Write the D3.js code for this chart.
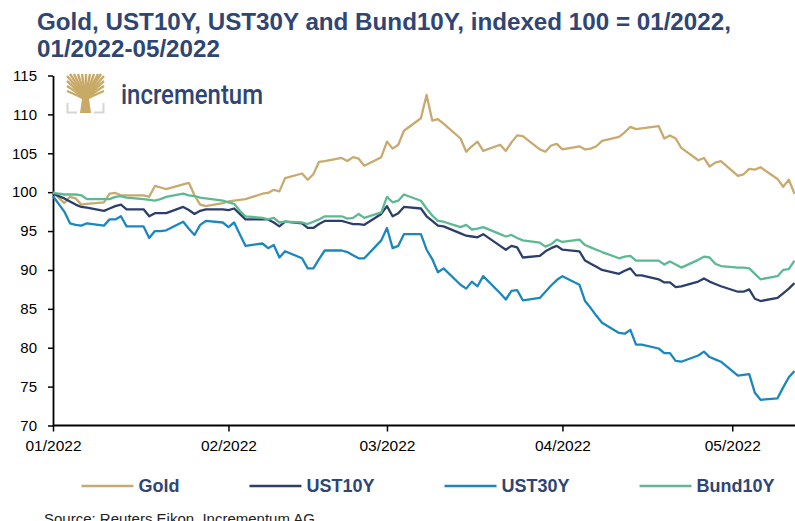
<!DOCTYPE html>
<html>
<head>
<meta charset="utf-8">
<script src="https://cdn.jsdelivr.net/npm/d3@7"></script>
<style>
  body { margin: 0; background: #fff; }
  svg { display: block; font-family: Arial, "Liberation Sans", sans-serif; }
</style>
</head>
<body>
<div id="chart"></div>
<script>
// Business days, indexed 100 = 01/2022
const dates = ["2022-01-01",
  "2022-01-03","2022-01-04","2022-01-05","2022-01-06","2022-01-07",
  "2022-01-10","2022-01-11","2022-01-12","2022-01-13","2022-01-14",
  "2022-01-17","2022-01-18","2022-01-19","2022-01-20","2022-01-21",
  "2022-01-24","2022-01-25","2022-01-26","2022-01-27","2022-01-28",
  "2022-01-31","2022-02-01","2022-02-02","2022-02-03","2022-02-04",
  "2022-02-07","2022-02-08","2022-02-09","2022-02-10","2022-02-11",
  "2022-02-14","2022-02-15","2022-02-16","2022-02-17","2022-02-18",
  "2022-02-21","2022-02-22","2022-02-23","2022-02-24","2022-02-25",
  "2022-02-28","2022-03-01","2022-03-02","2022-03-03","2022-03-04",
  "2022-03-07","2022-03-08","2022-03-09","2022-03-10","2022-03-11",
  "2022-03-14","2022-03-15","2022-03-16","2022-03-17","2022-03-18",
  "2022-03-21","2022-03-22","2022-03-23","2022-03-24","2022-03-25",
  "2022-03-28","2022-03-29","2022-03-30","2022-03-31","2022-04-01",
  "2022-04-04","2022-04-05","2022-04-06","2022-04-07","2022-04-08",
  "2022-04-11","2022-04-12","2022-04-13","2022-04-14","2022-04-15",
  "2022-04-18","2022-04-19","2022-04-20","2022-04-21","2022-04-22",
  "2022-04-25","2022-04-26","2022-04-27","2022-04-28","2022-04-29",
  "2022-05-02","2022-05-03","2022-05-04","2022-05-05","2022-05-06",
  "2022-05-09","2022-05-10","2022-05-11","2022-05-12"];

const gold = [100.0,
  98.6, 99.4, 99.2, 98.4, 98.5,
  98.7, 99.8, 99.9, 99.6, 99.6,
  99.6, 99.4, 100.8, 100.6, 100.4,
  101.0, 101.2, 99.6, 98.4, 98.2,
  98.6, 98.8, 98.9, 99.0, 99.1,
  99.8, 99.9, 100.3, 100.1, 101.8,
  102.4, 101.6, 102.3, 103.9, 104.0,
  104.4, 104.0, 104.5, 104.3, 103.4,
  104.5, 106.5, 105.6, 106.1, 107.9,
  109.5, 112.5, 109.2, 109.4, 108.8,
  106.9, 105.2, 105.9, 106.5, 105.3,
  106.1, 105.3, 106.4, 107.3, 107.2,
  105.5, 105.2, 106.0, 106.2, 105.5,
  105.9, 105.5, 105.6, 105.9, 106.6,
  107.1, 107.7, 108.4, 108.1, 108.2,
  108.5, 106.9, 107.3, 106.9, 105.7,
  104.1, 104.4, 103.3, 103.8, 104.0,
  102.1, 102.3, 103.0, 102.9, 103.2,
  101.7, 100.7, 101.6, 99.8];

const ust10 = [99.8,
  99.2, 98.8, 98.4, 98.1, 98.0,
  97.6, 97.9, 98.2, 98.4, 97.8,
  97.8, 96.9, 97.3, 97.3, 97.3,
  98.1, 97.7, 97.2, 97.6, 97.8,
  97.8, 97.7, 97.9, 97.2, 96.5,
  96.5, 96.5, 96.1, 95.6, 96.2,
  96.0, 95.4, 95.4, 95.9, 96.3,
  96.3, 96.1, 95.9, 95.9, 95.8,
  97.2, 98.2, 96.9, 97.3, 98.1,
  97.9, 96.9, 96.3, 95.7, 95.6,
  94.7, 94.4, 94.3, 94.2, 94.6,
  93.1, 92.6, 93.1, 92.9, 91.6,
  91.8, 92.4, 92.8, 93.1, 92.6,
  92.4, 91.2, 90.8, 90.4, 90.0,
  89.5, 89.9, 90.2, 89.3, 89.3,
  88.8, 88.4, 88.4, 87.8, 87.9,
  88.5, 88.9, 88.5, 88.2, 87.9,
  87.2, 87.2, 87.5, 86.3, 86.0,
  86.4, 87.0, 87.6, 88.3];

const ust30 = [99.5,
  97.5, 96.0, 95.8, 95.7, 96.0,
  95.7, 96.5, 96.5, 96.9, 95.6,
  95.6, 94.1, 95.0, 95.0, 95.1,
  96.2, 95.3, 94.5, 95.8, 96.3,
  96.1, 95.5, 96.1, 94.6, 93.1,
  93.4, 92.8, 93.2, 91.6, 92.4,
  91.5, 90.2, 90.2, 91.4, 92.5,
  92.5, 92.3, 91.9, 91.5, 91.5,
  93.8, 95.4, 92.8, 93.1, 94.6,
  94.6, 92.6, 91.4, 89.7, 90.2,
  88.1, 87.6, 88.5, 87.9, 89.2,
  87.0, 86.2, 87.3, 87.4, 86.1,
  86.4, 87.2, 88.0, 88.7, 89.2,
  88.1, 86.0, 85.1, 84.1, 83.2,
  81.9, 81.8, 82.3, 80.4, 80.4,
  79.9, 79.3, 79.3, 78.3, 78.2,
  79.0, 79.5, 78.8, 78.5, 78.2,
  76.4, 76.5, 76.6, 74.2, 73.3,
  73.5, 74.9, 76.2, 77.0];

const bund10 = [99.9,
  99.7, 99.7, 99.7, 99.6, 99.1,
  99.1, 99.1, 99.4, 99.5, 99.3,
  99.1, 99.0, 98.9, 99.1, 99.4,
  99.8, 99.6, 99.5, 99.3, 99.2,
  98.9, 98.7, 98.5, 97.6, 96.9,
  96.7, 96.5, 96.7, 96.1, 96.2,
  96.1, 95.9, 96.2, 96.5, 96.9,
  96.9, 96.6, 96.7, 97.2, 96.7,
  97.4, 99.4, 98.7, 98.9, 99.7,
  98.9, 97.9, 97.0, 96.3, 96.2,
  95.5, 95.8, 95.2, 95.3, 95.5,
  94.6, 94.3, 94.5, 94.1, 93.8,
  93.5, 93.0, 93.3, 93.9, 93.6,
  93.9, 93.2, 92.9, 92.6, 92.3,
  91.5, 91.7, 91.8, 91.2, 91.2,
  91.2, 90.7, 91.1, 90.7, 90.3,
  91.3, 91.7, 91.6, 90.8, 90.5,
  90.3, 90.3, 90.2, 89.5, 88.8,
  89.2, 90.0, 90.1, 91.2];

const seriesNames = ["Gold", "UST10Y", "UST30Y", "Bund10Y"];
const seriesValues = [gold, ust10, ust30, bund10];
const seriesColors = ["#c8aa6e", "#2c3f6b", "#1b87bf", "#5cb993"];

const yTicks = [70, 75, 80, 85, 90, 95, 100, 105, 110, 115];
const monthTicks = ["2022-01-01", "2022-02-01", "2022-03-01", "2022-04-01", "2022-05-01"];
const titleLines = ["Gold, UST10Y, UST30Y and Bund10Y, indexed 100 = 01/2022,", "01/2022-05/2022"];
const sourceText = "Source: Reuters Eikon, Incrementum AG";

const width = 795, height = 521;
const navy = "#2f4573";

const svg = d3.select("#chart")
    .append("svg")
    .attr("width", width)
    .attr("height", height);

const parse = d3.utcParse("%Y-%m-%d");
const dateObjs = dates.map(parse);

// Scales
const x = d3.scaleUtc()
    .domain([parse("2022-01-01"), parse("2022-05-12")])
    .range([53, 794.5]);

const y = d3.scaleLinear()
    .domain([70, 115])
    .range([425.5, 75.5]);

// Title
svg.append("g")
    .selectAll("text")
    .data(titleLines)
    .join("text")
    .attr("x", 37)
    .attr("y", (d, i) => 30 + i * 27)
    .attr("font-size", 24.2)
    .attr("font-weight", "bold")
    .attr("fill", navy)
    .text(d => d);

// Logo
const logo = svg.append("g");
const gold_c = "#c8aa66";
const tips = [[67, 76], [70, 74], [74, 74], [78, 74], [82, 74], [86, 74], [90, 74], [94, 74], [98, 74], [101, 74], [104, 76],
              [67, 81], [67, 86], [67, 91], [104, 81], [104, 86], [104, 91]];
logo.selectAll("path.branch")
    .data(tips)
    .join("path")
    .attr("class", "branch")
    .attr("d", d => `M85.5,100 Q${85.5 + (d[0] - 85.5) * 0.35},${d[1] + (100 - d[1]) * 0.55} ${d[0]},${d[1]}`)
    .attr("fill", "none")
    .attr("stroke", gold_c)
    .attr("stroke-width", 2.4);
logo.append("path")
    .attr("d", "M82.5,95 L88.5,95 L91,113 L80,113 Z")
    .attr("fill", gold_c);
logo.append("path")
    .attr("d", "M67.5,103 V112.5 H77 M103.5,103 V112.5 H94")
    .attr("fill", "none")
    .attr("stroke", "#d6d6d6")
    .attr("stroke-width", 2);
logo.append("text")
    .attr("x", 121)
    .attr("y", 103.5)
    .attr("font-size", 28)
    .attr("font-family", "Roboto, Arial, sans-serif")
    .attr("font-weight", 500)
    .attr("textLength", 142)
    .attr("lengthAdjust", "spacingAndGlyphs")
    .attr("fill", navy)
    .text("incrementum");

// Axes
const yAxis = svg.append("g")
    .attr("transform", "translate(53,0)")
    .call(d3.axisLeft(y).tickValues(yTicks).tickSize(5).tickSizeOuter(0).tickPadding(11).tickFormat(d3.format("d")));

const xAxis = svg.append("g")
    .attr("transform", "translate(0,425.5)")
    .call(d3.axisBottom(x).tickValues(monthTicks.map(parse)).tickFormat(d3.utcFormat("%m/%Y"))
        .tickSize(6).tickSizeOuter(0).tickPadding(8));

[yAxis, xAxis].forEach(a => {
    a.select(".domain").attr("stroke", "#000").attr("stroke-width", 1.8);
    a.selectAll(".tick line").attr("stroke", "#000").attr("stroke-width", 1.5);
    a.selectAll("text").attr("fill", "#000").attr("font-family", "Arial, 'Liberation Sans', sans-serif");
});
yAxis.selectAll("text").attr("font-size", 15);
xAxis.selectAll("text").attr("font-size", 15.5);
xAxis.select(".domain").attr("d", "M53,0H795");

// Lines
const line = d3.line()
    .x((d, i) => x(dateObjs[i]))
    .y(d => y(d));

svg.append("g")
    .selectAll("path")
    .data(seriesValues)
    .join("path")
    .attr("fill", "none")
    .attr("stroke", (d, i) => seriesColors[i])
    .attr("stroke-width", 2.3)
    .attr("stroke-linejoin", "round")
    .attr("d", line);

// Legend
const legend = svg.append("g");
const items = legend.selectAll("g")
    .data(seriesNames)
    .join("g");
items.append("line")
    .attr("x1", 0).attr("x2", 52)
    .attr("y1", 486).attr("y2", 486)
    .attr("stroke", (d, i) => seriesColors[i])
    .attr("stroke-width", 2.5);
items.append("text")
    .attr("x", 57)
    .attr("y", 492)
    .attr("font-size", 18)
    .attr("font-weight", "bold")
    .attr("fill", navy)
    .text(d => d);

let widths = [];
items.each(function() { widths.push(this.getBBox().width); });
const gap = 70;
const total = d3.sum(widths) + gap * (widths.length - 1);
let cursor = 428 - total / 2;
items.attr("transform", (d, i) => {
    const t = `translate(${cursor},0)`;
    cursor += widths[i] + gap;
    return t;
});

// Source
svg.append("text")
    .attr("x", 44)
    .attr("y", 523.5)
    .attr("font-size", 15)
    .attr("fill", "#222")
    .text(sourceText);
</script>
</body>
</html>
